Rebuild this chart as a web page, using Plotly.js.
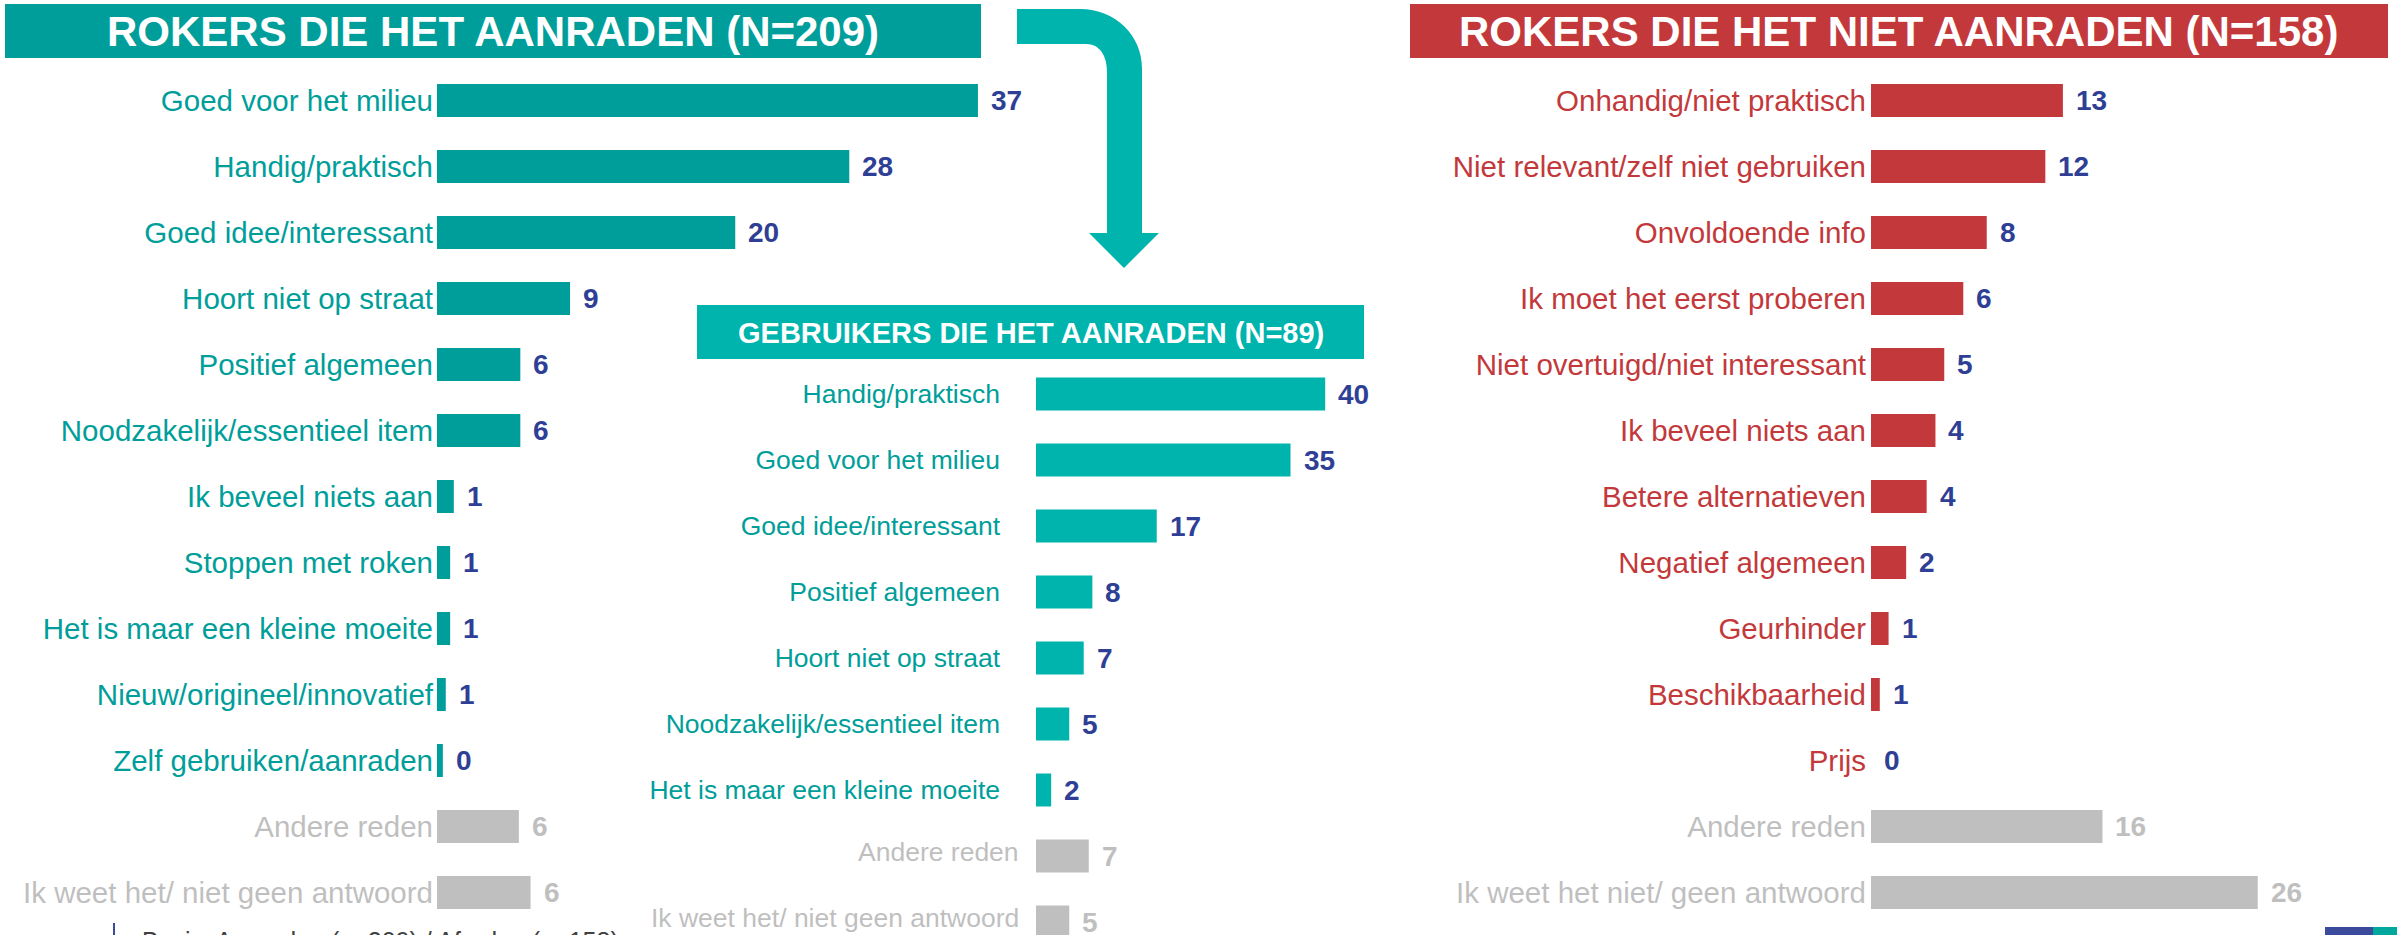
<!DOCTYPE html>
<html>
<head>
<meta charset="utf-8">
<script src="https://cdn.plot.ly/plotly-3.0.1.min.js"></script>
<style>
  html, body { margin: 0; padding: 0; background: #ffffff; }
  #chart { width: 2397px; height: 935px; }
</style>
</head>
<body>
<div id="chart"></div>
<script>
// ---------- DATA ----------
const leftTitle = "ROKERS DIE HET AANRADEN (N=209)";
const leftCats = [
  "Goed voor het milieu", "Handig/praktisch", "Goed idee/interessant",
  "Hoort niet op straat", "Positief algemeen", "Noodzakelijk/essentieel item",
  "Ik beveel niets aan", "Stoppen met roken", "Het is maar een kleine moeite",
  "Nieuw/origineel/innovatief", "Zelf gebruiken/aanraden", "Andere reden",
  "Ik weet het/ niet geen antwoord"
];
const leftValues = [37, 28.2, 20.4, 9.1, 5.7, 5.7, 1.15, 0.9, 0.9, 0.6, 0.4, 5.6, 6.4];

const midTitle = "GEBRUIKERS DIE HET AANRADEN (N=89)";
const midCats = [
  "Handig/praktisch", "Goed voor het milieu", "Goed idee/interessant",
  "Positief algemeen", "Hoort niet op straat", "Noodzakelijk/essentieel item",
  "Het is maar een kleine moeite", "Andere reden", "Ik weet het/ niet geen antwoord"
];
const midValues = [40, 35.2, 16.7, 7.8, 6.6, 4.6, 2.1, 7.3, 4.6];

const rightTitle = "ROKERS DIE HET NIET AANRADEN (N=158)";
const rightCats = [
  "Onhandig/niet praktisch", "Niet relevant/zelf niet gebruiken", "Onvoldoende info",
  "Ik moet het eerst proberen", "Niet overtuigd/niet interessant", "Ik beveel niets aan",
  "Betere alternatieven", "Negatief algemeen", "Geurhinder", "Beschikbaarheid",
  "Prijs", "Andere reden", "Ik weet het niet/ geen antwoord"
];
const rightValues = [13.1, 11.9, 7.9, 6.3, 5.0, 4.4, 3.8, 2.4, 1.2, 0.6, 0, 15.8, 26.4];

const greyCats = ["Andere reden", "Ik weet het/ niet geen antwoord", "Ik weet het niet/ geen antwoord"];
const footnote = "Basis: Aanraden (n=209) / Afraden (n=158)";

// ---------- STYLE ----------
const W = 2397, H = 935;
const px = x => x / W;
const py = y => 1 - y / H;
const FONT = "Arial, 'Liberation Sans', sans-serif";
const TEAL_DARK = "#009E9A";
const TEAL_LIGHT = "#00B4AE";
const RED = "#C3393B";
const GREY = "#BFBFBF";
const NAVY = "#2E3F95";

const isGrey = c => greyCats.indexOf(c) >= 0;
const barColors = (cats, base) => cats.map(c => isGrey(c) ? GREY : base);
const tickTexts = (cats, hideGrey) => cats.map(c =>
  isGrey(c) ? (hideGrey ? "" : '<span style="color:' + GREY + '">' + c + '</span>') : c);

function valueAnnotations(cats, vals, xref, yref) {
  return cats.map((c, i) => ({
    x: vals[i], y: c, xref: xref, yref: yref,
    xanchor: "left", yanchor: "middle", xshift: 11, yshift: 0,
    text: "<b>" + Math.round(vals[i]) + "</b>", showarrow: false,
    font: { family: FONT, size: 28, color: isGrey(c) ? GREY : NAVY }
  }));
}

const traces = [
  { type: "bar", orientation: "h", x: leftValues, y: leftCats, xaxis: "x", yaxis: "y",
    marker: { color: barColors(leftCats, TEAL_DARK), line: { width: 0 } }, hoverinfo: "skip" },
  { type: "bar", orientation: "h", x: midValues, y: midCats, xaxis: "x2", yaxis: "y2",
    marker: { color: barColors(midCats, TEAL_LIGHT), line: { width: 0 } }, hoverinfo: "skip" },
  { type: "bar", orientation: "h", x: rightValues, y: rightCats, xaxis: "x3", yaxis: "y3",
    marker: { color: barColors(rightCats, RED), line: { width: 0 } }, hoverinfo: "skip" }
];

const LSCALE = 14.62, MSCALE = 7.23, RSCALE = 14.65;
const rowTop = 67.5, rowBottom = 925.5;
const midFirst = 394, rowStep = 66;

function xax(x0, scale, maxv, anchor) {
  return { domain: [px(x0), px(x0 + maxv * scale)], range: [0, maxv], visible: false,
           anchor: anchor, showgrid: false, zeroline: false, fixedrange: true };
}
function yax(cats, domain, range, size, color, hideGrey, anchor, standoff) {
  return { domain: domain, anchor: anchor, type: "category", categoryorder: "array", categoryarray: cats,
           range: range, autorange: false, tickmode: "array", tickvals: cats,
           ticktext: tickTexts(cats, hideGrey), ticks: "", showline: false, showgrid: false,
           zeroline: false, tickangle: 0, ticklabelstandoff: standoff,
           tickfont: { family: FONT, size: size, color: color }, fixedrange: true };
}

const arrowPts = (function () {
  const p = (x, y) => px(x).toFixed(5) + "," + py(y).toFixed(5);
  return "M" + p(1017, 9) + " L" + p(1080, 9) +
    " C" + p(1116, 9) + " " + p(1142, 36) + " " + p(1142, 68) +
    " L" + p(1142, 233) + " L" + p(1159, 233) + " L" + p(1124, 268) +
    " L" + p(1089, 233) + " L" + p(1107, 233) + " L" + p(1107, 72) +
    " C" + p(1107, 56) + " " + p(1100, 44) + " " + p(1086, 44) +
    " L" + p(1017, 44) + " Z";
})();

const rect = (x0, y0, x1, y1, color) => ({
  type: "rect", xref: "paper", yref: "paper", x0: px(x0), x1: px(x1), y0: py(y1), y1: py(y0),
  fillcolor: color, line: { width: 0 }, layer: "below"
});

const headerAnn = (text, cx, cy, size) => ({
  xref: "paper", yref: "paper", x: px(cx), y: py(cy), xanchor: "center", yanchor: "middle",
  text: "<b>" + text + "</b>", showarrow: false,
  font: { family: FONT, size: size, color: "#ffffff" }
});

const annotations = [
  headerAnn(leftTitle, 493, 32, 42),
  headerAnn(rightTitle, 1898, 32, 42),
  headerAnn(midTitle, 1030.5, 333, 29)
].concat(
  valueAnnotations(leftCats, leftValues, "x", "y"),
  valueAnnotations(midCats, midValues, "x2", "y2"),
  valueAnnotations(rightCats, rightValues, "x3", "y3"),
  midCats.filter(isGrey).map(c => ({
    xref: "paper", yref: "y2", x: px(1021), y: c, xanchor: "right", yanchor: "middle",
    yshift: 4, text: c, showarrow: false,
    font: { family: FONT, size: 26.5, color: GREY }
  })),
  [{
    xref: "paper", yref: "paper", x: px(140), y: py(941), xanchor: "left", yanchor: "middle",
    text: footnote, showarrow: false, font: { family: FONT, size: 25, color: "#404040" }
  }]
);

const layout = {
  width: W, height: H,
  margin: { l: 0, r: 0, t: 0, b: 0, pad: 0 },
  paper_bgcolor: "#ffffff", plot_bgcolor: "rgba(0,0,0,0)",
  showlegend: false, bargap: 0.5,
  xaxis: xax(437, LSCALE, 40, "y"),
  yaxis: yax(leftCats, [py(rowBottom), py(rowTop)], [leftCats.length - 0.5, -0.5], 29.5, TEAL_DARK, false, "x", 3),
  xaxis2: xax(1036, MSCALE, 45, "y2"),
  yaxis2: yax(midCats, [0, py(midFirst - rowStep / 2)], [(H - midFirst) / rowStep, -0.5], 26.5, TEAL_DARK, true, "x2", 35),
  xaxis3: xax(1871, RSCALE, 30, "y3"),
  yaxis3: yax(rightCats, [py(rowBottom), py(rowTop)], [rightCats.length - 0.5, -0.5], 29.5, RED, false, "x3", 4),
  shapes: [
    rect(5, 4, 981, 58, TEAL_DARK),
    rect(1410, 4, 2388, 58, RED),
    rect(697, 305, 1364, 359, TEAL_LIGHT),
    { type: "path", xref: "paper", yref: "paper", path: arrowPts, fillcolor: TEAL_LIGHT,
      line: { width: 0 }, layer: "below" },
    { type: "line", xref: "paper", yref: "paper", x0: px(114), x1: px(114), y0: py(935), y1: py(923),
      line: { color: "#3C4A9C", width: 2 } },
    rect(2325, 927, 2373, 935, "#3C4A9C"),
    rect(2373, 927, 2397, 935, "#00A79D")
  ],
  annotations: annotations
};

Plotly.newPlot("chart", traces, layout, { staticPlot: true, displayModeBar: false });
</script>
</body>
</html>
